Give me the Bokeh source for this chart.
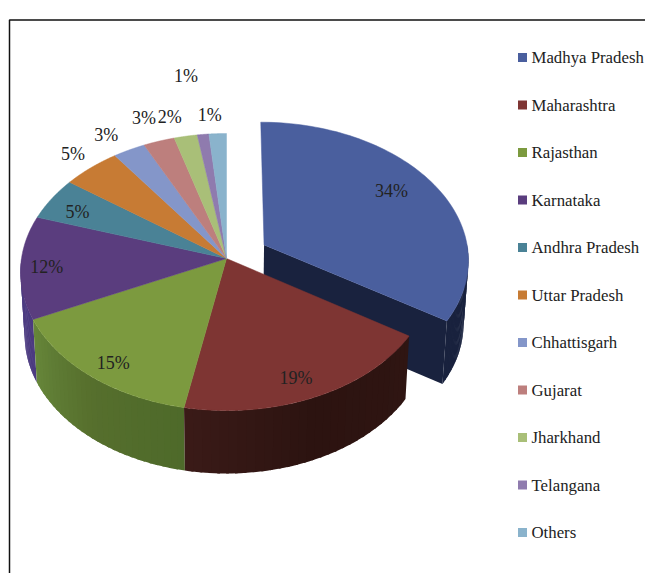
import numpy as np
from bokeh.plotting import figure
from bokeh.models import Range1d
from bokeh.core.properties import value
from bokeh.embed import file_html
from bokeh.resources import INLINE

# ---- data
states = ["Madhya Pradesh", "Maharashtra", "Rajasthan", "Karnataka", "Andhra Pradesh", "Uttar Pradesh",
          "Chhattisgarh", "Gujarat", "Jharkhand", "Telangana", "Others"]
shares = [34, 19, 15, 12, 5, 5, 2.8, 2.7, 2, 1, 1.5]
labels = ["34%", "19%", "15%", "12%", "5%", "5%", "3%", "3%", "2%", "1%", "1%"]

# ---- styles / layout
top_colors = ["#4a5f9e", "#7e3533", "#7c9a3f", "#5a3d7e", "#4a8296", "#c77b34",
              "#8496c9", "#bd7f7d", "#a9bf78", "#8f7bae", "#8ab3cc"]
side_colors = {0: ["#19223e", "#19223e"], 1: ["#2f1512", "#2c1310", "#3a1a17"],
               2: ["#4e6a2a", "#566f2d", "#66863a"], 3: ["#4c3b80", "#4c3b80"]}
label_offset = [(-40, 8), (-20, -19), (23, -13), (26, 0), (26, 13), (-18, -14),
                (-23, -15), (-15, -23), (-16, -19), (-17, -58), (-8, -19)]
CX, CY, RX, RY, K = 226.0, 258.0, 205.0, 137.2, 0.0975
DEPTH, SHRINK = 63.0, 0.98
EXPLODE = {0: (0.185, 0.10)}
LEGEND_X, LEGEND_Y0, LEGEND_STEP = 518, 57, 47.5
FONT = "Liberation Serif"


def project(theta, r=1.0, off=(0.0, 0.0)):
    u = off[0] + r * np.sin(theta)
    v = off[1] + r * np.cos(theta)
    s = 1.0 / (1.0 + K * v)
    return CX + RX * u * s, CY - RY * v * s


def lower(x, y):
    return CX + (np.asarray(x) - CX) * SHRINK, np.asarray(y) + DEPTH


def mix(c1, c2, t):
    a = [int(c1[i:i + 2], 16) for i in (1, 3, 5)]
    b = [int(c2[i:i + 2], 16) for i in (1, 3, 5)]
    return "#%02x%02x%02x" % tuple(int(round(p + (q - p) * t)) for p, q in zip(a, b))


def ramp(stops, t):
    pos = t * (len(stops) - 1)
    i = min(int(pos), len(stops) - 2)
    return mix(stops[i], stops[i + 1], pos - i)


edges = np.cumsum([0] + shares) / sum(shares) * 2 * np.pi

p = figure(width=645, height=573, x_range=Range1d(0, 645), y_range=Range1d(573, 0),
           toolbar_location=None, output_backend="svg", min_border=0,
           outline_line_color=None, background_fill_color="white")
p.axis.visible = False
p.grid.visible = False

# Side walls, back to front: only the part that faces the viewer
xs, ys, cols = [], [], []
for i in [0, 3, 2, 1]:
    off = EXPLODE.get(i, (0.0, 0.0))
    a = max(edges[i], np.pi / 2)
    b = min(edges[i + 1], 3 * np.pi / 2)
    grid = np.linspace(a, b, 31)
    for j in range(30):
        tt = np.linspace(grid[j], min(grid[j + 1] + 0.012, b), 3)
        x, y = project(tt, off=off)
        lx, ly = lower(x, y)
        xs.append(list(x) + list(lx[::-1]))
        ys.append(list(y) + list(ly[::-1]))
        cols.append(ramp(side_colors[i], j / 29))
    if i == 0:  # cut face of the exploded slice
        ax, ay = project(edges[1], r=0.0, off=off)
        bx, by = project(edges[1], off=off)
        (alx, blx), (aly, bly) = lower([ax, bx], [ay, by])
        xs.append([ax, bx, blx, alx])
        ys.append([ay, by, bly, aly])
        cols.append("#19223e")
p.patches(xs, ys, fill_color=cols, line_color=None)

# Top faces
xs, ys = [], []
for i in range(len(shares)):
    off = EXPLODE.get(i, (0.0, 0.0))
    tt = np.linspace(edges[i], edges[i + 1], 80)
    x, y = project(tt, off=off)
    ax, ay = project(0.0, r=0.0, off=off)
    xs.append([ax] + list(x))
    ys.append([ay] + list(y))
p.patches(xs, ys, fill_color=top_colors, line_color=top_colors, line_width=0.5)

# Percent labels, anchored to each slice's rim midpoint
lx, ly = [], []
for i in range(len(shares)):
    mid = (edges[i] + edges[i + 1]) / 2
    x, y = project(mid, off=(0.0, 0.0) if i else (37 / RX, 14 / RY))
    lx.append(x + label_offset[i][0])
    ly.append(y + label_offset[i][1])
p.text(lx, ly, text=labels, text_font=value(FONT), text_font_size="18px", text_color="#222222",
       text_align="center", text_baseline="middle")

# Legend
leg_y = [LEGEND_Y0 + LEGEND_STEP * i for i in range(len(states))]
p.rect([LEGEND_X + 4] * len(states), leg_y, width=9, height=9, fill_color=top_colors, line_color=None)
p.text([LEGEND_X + 13] * len(states), leg_y, text=states, text_font=value(FONT), text_font_size="16.8px",
       text_color="#222222", text_align="left", text_baseline="middle")

# Frame
p.line([9, 9, 645], [573, 19.5, 19.5], line_color="#111111", line_width=1.5)

open("out.html", "w").write(file_html(p, INLINE))
